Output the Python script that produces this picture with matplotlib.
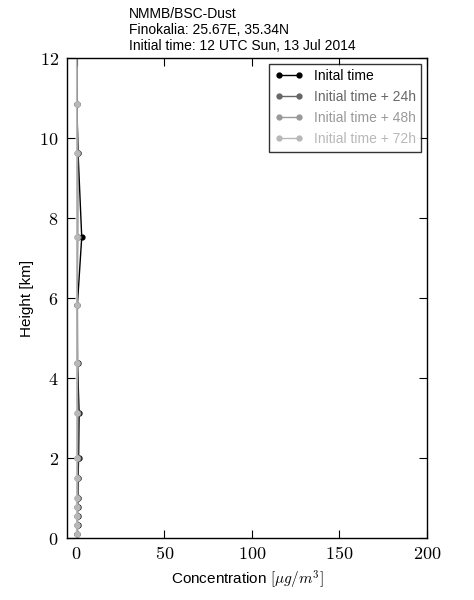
import matplotlib
matplotlib.use("Agg")
import matplotlib.pyplot as plt

plt.rcParams['font.family'] = ['Liberation Sans', 'DejaVu Sans']
plt.rcParams['mathtext.fontset'] = 'cm'

heights = [0.09, 0.33, 0.55, 0.78, 1.0, 1.5, 2.0, 3.13, 4.38, 5.82, 7.52, 9.63, 10.85, 12.3, 13.9]
conc_0h = [0.4, 0.5, 0.5, 0.6, 0.7, 0.8, 1.1, 1.4, 0.5, 0.4, 2.9, 0.8, 0.1, 0.0, 0.0]
conc_24h = [0.3, 0.3, 0.4, 0.4, 0.5, 0.6, 0.7, 0.8, 0.4, 0.3, 0.6, 0.7, 0.1, 0.0, 0.0]
conc_48h = [0.2, 0.2, 0.3, 0.3, 0.3, 0.3, 0.4, 0.4, 0.3, 0.2, 0.3, 0.3, 0.1, 0.0, 0.0]
conc_72h = [0.1, 0.1, 0.1, 0.1, 0.1, 0.1, 0.1, 0.1, 0.1, 0.1, 0.1, 0.1, 0.0, 0.0, 0.0]
labels = ['Inital time', 'Initial time + 24h', 'Initial time + 48h', 'Initial time + 72h']
colors = ['#000000', '#666666', '#999999', '#b8b8b8']
xticks = [0, 50, 100, 150, 200]
yticks = [0, 2, 4, 6, 8, 10, 12]

fig = plt.figure(figsize=(4.74, 6.0), dpi=100, facecolor='white')
ax = fig.add_axes([0.1414, 0.1033, 0.7594, 0.8])

for vals, lab, col in zip([conc_0h, conc_24h, conc_48h, conc_72h], labels, colors):
    ax.plot(vals, heights, '-o', color=col, label=lab, lw=1.0, ms=3.5,
            markeredgecolor=col)

ax.set_xlim(-5.5, 200)
ax.set_ylim(0, 12)
ax.set_xticks(xticks)
ax.set_yticks(yticks)
ax.set_xticklabels(['$%d$' % v for v in xticks], fontsize=13)
ax.set_yticklabels(['$%d$' % v for v in yticks], fontsize=13)
ax.tick_params(direction='in', top=True, right=True, length=6, width=0.8, pad=6)
for s in ax.spines.values():
    s.set_linewidth(1.0)

ax.set_xlabel(r'Concentration $[\mu g/m^3]$', fontsize=11)
ax.set_ylabel('Height [km]', fontsize=11)

leg = ax.legend(loc='upper right', fontsize=10, frameon=True, fancybox=False,
                borderaxespad=0.4, handlelength=2.0, numpoints=2)
leg.get_frame().set_edgecolor('black')
leg.get_frame().set_linewidth(1.0)
for t, c in zip(leg.get_texts(), colors):
    t.set_color(c)

fig.text(0.272, 0.977, 'NMMB/BSC-Dust', fontsize=10, va='center', ha='left')
fig.text(0.272, 0.950, 'Finokalia: 25.67E, 35.34N', fontsize=10, va='center', ha='left')
fig.text(0.272, 0.923, 'Initial time: 12 UTC Sun, 13 Jul 2014', fontsize=10, va='center', ha='left')

fig.savefig('out.png', dpi=100, facecolor='white')
